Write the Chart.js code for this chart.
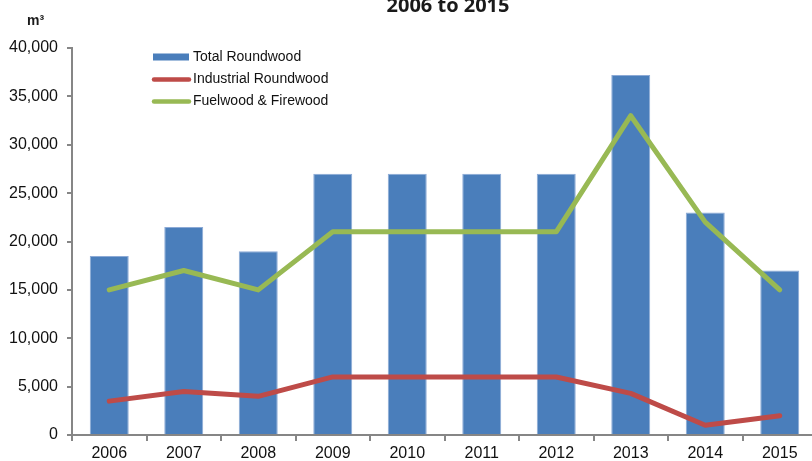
<!DOCTYPE html>
<html>
<head>
<meta charset="utf-8">
<script src="https://cdn.jsdelivr.net/npm/chart.js@4"></script>
<style>
  html, body { margin: 0; padding: 0; overflow: hidden; background: #fff; }
  #wrap { position: relative; width: 820px; height: 461px; }
</style>
</head>
<body>
<div id="wrap"><canvas id="c"></canvas></div>
<script>
const years = ['2006','2007','2008','2009','2010','2011','2012','2013','2014','2015'];
const totalRoundwood = [18500, 21500, 19000, 27000, 27000, 27000, 27000, 37200, 23000, 17000];
const industrialRoundwood = [3500, 4500, 4000, 6000, 6000, 6000, 6000, 4300, 1000, 2000];
const fuelwoodFirewood = [15000, 17000, 15000, 21000, 21000, 21000, 21000, 33000, 22000, 15000];
const seriesNames = ['Total Roundwood', 'Industrial Roundwood', 'Fuelwood & Firewood'];
const titleText = '2006 to 2015';
const unitText = 'm³';

const BLUE = '#4A7EBB', RED = '#BE4B48', GREEN = '#98B954', AXIS = '#868686';

const overlay = {
  id: 'overlay',
  afterDraw(chart) {
    const ctx = chart.ctx;
    ctx.save();
    // title
    ctx.fillStyle = '#1a1a1a';
    ctx.font = '700 20px "Open Sans"';
    ctx.textAlign = 'center';
    ctx.textBaseline = 'alphabetic';
    ctx.fillText(titleText, 448, 12);
    // unit
    ctx.font = 'bold 14px "Liberation Sans", Arial';
    ctx.textAlign = 'left';
    ctx.fillText(unitText, 27, 25);
    // legend
    const rows = [57, 79, 101];
    ctx.font = '14px "Liberation Sans", Arial';
    ctx.textBaseline = 'middle';
    chart.data.datasets.forEach((ds, i) => {
      const y = rows[i];
      if (ds.type === 'bar') {
        ctx.fillStyle = ds.backgroundColor;
        ctx.fillRect(153, y - 3.5, 36, 7);
      } else {
        ctx.strokeStyle = ds.borderColor;
        ctx.lineWidth = 4.5;
        ctx.lineCap = 'round';
        ctx.beginPath();
        ctx.moveTo(154, y + 0.5);
        ctx.lineTo(189, y + 0.5);
        ctx.stroke();
      }
      ctx.fillStyle = '#111';
      ctx.fillText(ds.label, 193, y + 0.5);
    });
    ctx.restore();
  }
};

new Chart(document.getElementById('c'), {
  data: {
    labels: years,
    datasets: [
      { type: 'bar', label: seriesNames[0], data: totalRoundwood, backgroundColor: BLUE,
        borderColor: '#8CAAD6', borderWidth: 1, borderSkipped: 'bottom',
        barPercentage: 0.523, categoryPercentage: 1, order: 3 },
      { type: 'line', label: seriesNames[1], data: industrialRoundwood, borderColor: RED,
        backgroundColor: RED, borderWidth: 5, pointRadius: 0, tension: 0, order: 1,
        borderJoinStyle: 'round', borderCapStyle: 'round' },
      { type: 'line', label: seriesNames[2], data: fuelwoodFirewood, borderColor: GREEN,
        backgroundColor: GREEN, borderWidth: 5, pointRadius: 0, tension: 0, order: 2,
        borderJoinStyle: 'round', borderCapStyle: 'round' }
    ]
  },
  options: {
    responsive: true,
    maintainAspectRatio: false,
    animation: false,
    layout: { padding: { top: 48, right: 3, left: 0, bottom: 0 } },
    plugins: { legend: { display: false }, tooltip: { enabled: false }, title: { display: false } },
    scales: {
      x: {
        offset: true,
        grid: { offset: true, drawOnChartArea: false, drawTicks: true, tickLength: 6, color: AXIS, lineWidth: 2 },
        border: { color: AXIS, width: 2 },
        ticks: { color: '#111', font: { family: '"Liberation Sans", Arial', size: 16 }, padding: 3, maxRotation: 0 },
        afterFit(scale) { scale.height = 26; }
      },
      y: {
        min: 0, max: 40000,
        grid: { drawOnChartArea: false, drawTicks: true, tickLength: 5, color: AXIS, lineWidth: 2 },
        border: { color: AXIS, width: 2 },
        ticks: { stepSize: 5000, color: '#111', font: { family: '"Liberation Sans", Arial', size: 16 }, padding: 9 },
        afterFit(scale) { scale.width = 72; }
      }
    }
  },
  plugins: [overlay]
});
</script>
</body>
</html>
